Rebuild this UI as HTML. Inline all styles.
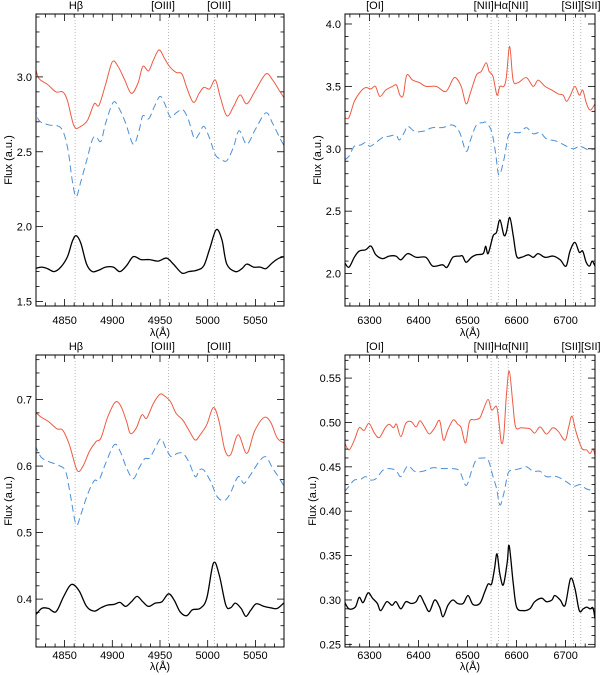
<!DOCTYPE html>
<html><head><meta charset="utf-8">
<style>
html,body{margin:0;padding:0;background:#fff;}
svg{display:block;font-family:"Liberation Sans",sans-serif;}
</style></head>
<body>
<svg id="chart" width="600" height="675" viewBox="0 0 600 675" xmlns="http://www.w3.org/2000/svg"></svg>
<script>
// ---------- DATA ----------
const aRedWl=[4819,4823,4832,4841,4848,4853,4860,4867,4874,4881,4886,4893,4900,4906,4913,4920,4927,4932,4938,4943,4949,4955,4960,4967,4973,4978,4985,4991,4996,5002,5008,5013,5020,5027,5034,5041,5050,5061,5068,5075,5081];
const aRed=[3.07,2.99,2.95,2.90,2.90,2.84,2.67,2.67,2.71,2.82,2.81,2.95,3.10,3.07,2.98,2.89,2.96,3.07,3.04,3.11,3.18,3.12,3.07,3.03,3.02,2.93,2.83,2.89,2.93,2.92,2.98,2.87,2.74,2.80,2.88,2.82,2.91,3.02,2.98,2.91,2.85];
const aBlueWl=[4819,4823,4833,4846,4853,4858,4862,4867,4873,4879,4883,4888,4893,4901,4907,4914,4922,4928,4932,4938,4944,4950,4955,4961,4967,4974,4980,4986,4991,4996,5002,5008,5014,5020,5027,5033,5041,5050,5061,5068,5075,5081];
const aBlue=[2.80,2.71,2.68,2.66,2.53,2.31,2.20,2.30,2.44,2.58,2.60,2.57,2.69,2.83,2.79,2.69,2.55,2.64,2.74,2.72,2.80,2.87,2.82,2.73,2.76,2.78,2.71,2.59,2.62,2.67,2.59,2.48,2.45,2.44,2.53,2.64,2.55,2.65,2.76,2.69,2.60,2.53];
const aBlackWl=[4819,4826,4832,4839,4846,4853,4858,4862,4867,4873,4879,4886,4893,4901,4908,4915,4922,4930,4939,4948,4957,4964,4973,4980,4989,4996,5002,5009,5015,5020,5029,5036,5041,5048,5055,5061,5068,5075,5081];
const aBlack=[1.72,1.73,1.72,1.70,1.73,1.80,1.90,1.94,1.89,1.75,1.70,1.71,1.73,1.73,1.70,1.74,1.80,1.78,1.78,1.77,1.79,1.75,1.69,1.70,1.71,1.74,1.85,1.98,1.91,1.75,1.70,1.72,1.75,1.73,1.73,1.72,1.76,1.79,1.80];
const bRedWl=[6249,6258,6269,6282,6292,6303,6312,6321,6333,6347,6355,6362,6369,6376,6388,6402,6415,6436,6456,6473,6487,6497,6506,6518,6528,6538,6544,6552,6560,6566,6574,6579,6586,6593,6603,6620,6634,6644,6658,6672,6685,6695,6702,6710,6719,6728,6735,6742,6750,6760];
const bRed=[3.25,3.25,3.38,3.46,3.49,3.48,3.50,3.42,3.47,3.50,3.51,3.43,3.43,3.59,3.55,3.53,3.50,3.50,3.46,3.57,3.50,3.36,3.45,3.59,3.62,3.69,3.62,3.58,3.43,3.50,3.50,3.57,3.82,3.55,3.53,3.57,3.50,3.55,3.50,3.47,3.44,3.43,3.38,3.43,3.50,3.43,3.47,3.37,3.31,3.36];
const bBlueWl=[6249,6258,6269,6282,6292,6301,6313,6327,6340,6354,6361,6371,6378,6392,6409,6429,6449,6470,6484,6497,6506,6518,6532,6538,6549,6557,6564,6574,6583,6593,6607,6620,6634,6648,6661,6682,6702,6716,6730,6747,6760];
const bBlue=[2.91,2.94,3.02,3.03,3.05,3.02,3.05,3.09,3.10,3.11,3.07,3.13,3.18,3.14,3.14,3.17,3.17,3.19,3.13,2.98,3.07,3.19,3.21,3.21,3.14,2.97,2.79,2.91,3.10,3.13,3.13,3.17,3.12,3.13,3.08,3.06,3.02,3.00,3.02,2.99,3.00];
const bBlackWl=[6249,6258,6269,6279,6292,6303,6313,6327,6340,6354,6364,6378,6395,6415,6429,6449,6458,6470,6484,6490,6497,6508,6518,6532,6537,6542,6552,6559,6566,6574,6579,6586,6593,6600,6610,6624,6634,6644,6658,6675,6689,6701,6709,6719,6728,6735,6742,6749,6754,6760];
const bBlack=[2.09,2.05,2.13,2.18,2.19,2.22,2.15,2.12,2.14,2.14,2.11,2.16,2.13,2.13,2.06,2.07,2.05,2.13,2.14,2.14,2.09,2.13,2.15,2.16,2.22,2.16,2.30,2.33,2.43,2.31,2.33,2.45,2.31,2.14,2.13,2.15,2.13,2.16,2.13,2.14,2.11,2.06,2.18,2.25,2.17,2.18,2.09,2.06,2.10,2.06];
const cRedWl=[4819,4825,4833,4842,4848,4855,4863,4869,4876,4883,4888,4895,4903,4909,4915,4919,4925,4931,4936,4943,4950,4955,4961,4967,4974,4981,4987,4992,4999,5006,5012,5018,5024,5032,5041,5049,5059,5066,5073,5081];
const cRed=[0.682,0.674,0.667,0.656,0.654,0.632,0.594,0.599,0.622,0.637,0.642,0.673,0.696,0.690,0.667,0.649,0.657,0.677,0.672,0.694,0.708,0.705,0.697,0.679,0.669,0.652,0.639,0.647,0.662,0.688,0.667,0.624,0.617,0.647,0.619,0.652,0.673,0.666,0.642,0.634];
const cBlueWl=[4819,4825,4833,4844,4851,4856,4862,4867,4874,4881,4886,4893,4902,4908,4915,4922,4928,4934,4939,4945,4951,4957,4962,4968,4974,4980,4987,4991,4996,5003,5010,5017,5023,5032,5038,5045,5054,5061,5068,5075,5081];
const cBlue=[0.632,0.614,0.607,0.601,0.592,0.557,0.512,0.527,0.557,0.578,0.579,0.604,0.632,0.623,0.597,0.581,0.597,0.611,0.612,0.627,0.641,0.624,0.614,0.619,0.619,0.607,0.584,0.594,0.594,0.577,0.554,0.548,0.557,0.584,0.574,0.587,0.607,0.614,0.597,0.582,0.567];
const cBlackWl=[4819,4826,4833,4841,4849,4857,4865,4873,4881,4888,4895,4902,4908,4914,4920,4926,4932,4938,4945,4952,4959,4965,4971,4978,4984,4992,4999,5006,5012,5019,5024,5029,5035,5040,5045,5051,5059,5066,5073,5081];
const cBlack=[0.375,0.386,0.386,0.381,0.404,0.422,0.413,0.389,0.382,0.387,0.391,0.392,0.395,0.389,0.396,0.404,0.396,0.389,0.394,0.396,0.408,0.398,0.381,0.375,0.384,0.386,0.401,0.454,0.437,0.391,0.387,0.394,0.386,0.374,0.383,0.393,0.389,0.387,0.386,0.396];
const dRedWl=[6249,6258,6269,6279,6289,6299,6310,6320,6332,6340,6349,6355,6364,6374,6385,6395,6403,6412,6422,6433,6443,6451,6460,6471,6480,6487,6496,6504,6515,6525,6532,6542,6549,6559,6564,6569,6574,6579,6585,6592,6598,6610,6627,6637,6648,6661,6674,6685,6699,6706,6713,6721,6733,6743,6750,6756,6760];
const dRed=[0.478,0.469,0.480,0.494,0.491,0.499,0.488,0.483,0.494,0.498,0.494,0.498,0.484,0.499,0.501,0.495,0.502,0.495,0.487,0.494,0.502,0.480,0.492,0.503,0.498,0.494,0.477,0.501,0.503,0.505,0.514,0.526,0.514,0.518,0.501,0.477,0.486,0.529,0.558,0.524,0.495,0.494,0.493,0.488,0.495,0.487,0.494,0.490,0.480,0.494,0.507,0.490,0.471,0.469,0.465,0.470,0.463];
const dBlueWl=[6249,6258,6269,6282,6292,6303,6314,6327,6340,6354,6364,6378,6392,6409,6429,6449,6470,6484,6497,6508,6518,6532,6542,6551,6559,6566,6574,6583,6593,6607,6620,6634,6648,6661,6682,6702,6716,6730,6743,6760];
const dBlue=[0.422,0.428,0.435,0.436,0.439,0.435,0.437,0.446,0.448,0.446,0.439,0.451,0.445,0.445,0.449,0.448,0.448,0.445,0.429,0.445,0.458,0.460,0.458,0.441,0.426,0.407,0.420,0.443,0.446,0.448,0.450,0.445,0.445,0.439,0.439,0.433,0.428,0.430,0.425,0.423];
const dBlackWl=[6249,6258,6271,6279,6287,6297,6306,6316,6323,6335,6346,6354,6364,6374,6385,6395,6403,6412,6422,6433,6443,6450,6460,6470,6480,6491,6501,6511,6525,6535,6542,6549,6555,6560,6566,6573,6581,6585,6593,6600,6614,6627,6637,6651,6661,6672,6678,6689,6699,6710,6719,6728,6736,6743,6750,6756,6760];
const dBlack=[0.298,0.290,0.292,0.303,0.297,0.308,0.302,0.296,0.288,0.298,0.294,0.298,0.290,0.298,0.296,0.298,0.305,0.296,0.287,0.300,0.292,0.281,0.294,0.300,0.296,0.296,0.305,0.295,0.296,0.309,0.318,0.318,0.335,0.352,0.329,0.317,0.343,0.361,0.320,0.292,0.288,0.290,0.298,0.302,0.298,0.300,0.305,0.300,0.294,0.324,0.313,0.288,0.290,0.292,0.290,0.291,0.279];

const blueLines=[4861,4959,5007];
const redLines=[6300,6548,6563,6583,6716,6731];

// ---------- DRAW ----------
const svg=document.getElementById('chart');
const NS='http://www.w3.org/2000/svg';
function mk(tag,attrs,parent){const e=document.createElementNS(NS,tag);for(const k in attrs)e.setAttribute(k,attrs[k]);(parent||svg).appendChild(e);return e;}
function smoothPath(P){
  let d='M'+P[0][0].toFixed(1)+','+P[0][1].toFixed(1);
  for(let i=0;i<P.length-1;i++){
    const p0=P[Math.max(0,i-1)],p1=P[i],p2=P[i+1],p3=P[Math.min(P.length-1,i+2)];
    const c1=[p1[0]+(p2[0]-p0[0])/6,p1[1]+(p2[1]-p0[1])/6];
    const c2=[p2[0]-(p3[0]-p1[0])/6,p2[1]-(p3[1]-p1[1])/6];
    d+=' C'+c1[0].toFixed(1)+','+c1[1].toFixed(1)+' '+c2[0].toFixed(1)+','+c2[1].toFixed(1)+' '+p2[0].toFixed(1)+','+p2[1].toFixed(1);
  }
  return d;
}

const panels=[
 {id:'top-left',x0:36,x1:284,y0:14,y1:306,xmin:4820,xmax:5080,ymin:1.47,ymax:3.42,xmaj:50,xmin_:10,ymaj:0.5,ymin_:0.1,yfmt:1,tickOff:18,titleOff:30,
  series:[[aRedWl,aRed,'red'],[aBlueWl,aBlue,'blue'],[aBlackWl,aBlack,'black']],lines:blueLines,
  labels:[['Hβ',76],['[OIII]',163],['[OIII]',219]]},
 {id:'top-right',x0:345,x1:595,y0:14,y1:306,xmin:6250,xmax:6760,ymin:1.74,ymax:4.08,xmaj:100,xmin_:20,ymaj:0.5,ymin_:0.1,yfmt:1,tickOff:18,titleOff:30,
  series:[[bRedWl,bRed,'red'],[bBlueWl,bBlue,'blue'],[bBlackWl,bBlack,'black']],lines:redLines,
  labels:[['[OI]',375],['[NII]Hα[NII]',501],['[SII][SII]',581]]},
 {id:'bottom-left',x0:36,x1:284,y0:355,y1:647,xmin:4820,xmax:5080,ymin:0.328,ymax:0.767,xmaj:50,xmin_:10,ymaj:0.1,ymin_:0.02,yfmt:1,tickOff:12,titleOff:23,
  series:[[cRedWl,cRed,'red'],[cBlueWl,cBlue,'blue'],[cBlackWl,cBlack,'black']],lines:blueLines,
  labels:[['Hβ',76],['[OIII]',163],['[OIII]',219]]},
 {id:'bottom-right',x0:345,x1:595,y0:355,y1:647,xmin:6250,xmax:6760,ymin:0.247,ymax:0.576,xmaj:100,xmin_:20,ymaj:0.05,ymin_:0.01,yfmt:2,tickOff:12,titleOff:23,
  series:[[dRedWl,dRed,'red'],[dBlueWl,dBlue,'blue'],[dBlackWl,dBlack,'black']],lines:redLines,
  labels:[['[OI]',375],['[NII]Hα[NII]',501],['[SII][SII]',581]]}
];
const colors={red:'#ee5a44',blue:'#4d8fd6',black:'#000'};

panels.forEach((p,pi)=>{
  const g=mk('g',{});
  
  
  const sx=v=>p.x0+(v-p.xmin)/(p.xmax-p.xmin)*(p.x1-p.x0);
  const sy=v=>p.y1-(v-p.ymin)/(p.ymax-p.ymin)*(p.y1-p.y0);
  const cp=mk('clipPath',{id:'clip'+pi},g);
  mk('rect',{x:p.x0,y:p.y0,width:p.x1-p.x0,height:p.y1-p.y0},cp);
  p.lines.forEach(l=>{
    const ln=mk('line',{x1:sx(l),x2:sx(l),y1:p.y0,y2:p.y1,stroke:'#aaa','stroke-width':0.8,'stroke-dasharray':'1,2'},g);
    
    
  });
  p.labels.forEach(L=>{
    const t=mk('text',{x:L[1],y:p.y0-5,'font-size':11,'text-anchor':'middle',fill:'#000'},g);
    t.textContent=L[0];
    
    
  });
  p.series.forEach(s=>{
    const P=s[0].map((w,i)=>[sx(w),sy(s[1][i])]);
    const attrs={d:smoothPath(P),fill:'none',stroke:colors[s[2]],'stroke-width':s[2]==='black'?1.3:1,'clip-path':'url(#clip'+pi+')','stroke-linejoin':'round'};
    if(s[2]==='blue')attrs['stroke-dasharray']='7,4';
    const pl=mk('path',attrs,g);
    
    
  });
  const fr=mk('rect',{x:p.x0,y:p.y0,width:p.x1-p.x0,height:p.y1-p.y0,fill:'none',stroke:'#000','stroke-width':1},g);
  
  
  const eps=1e-6;
  for(let v=Math.ceil(p.xmin/p.xmin_)*p.xmin_; v<=p.xmax+eps; v+=p.xmin_){
    const major=Math.abs(v/p.xmaj-Math.round(v/p.xmaj))<1e-6;
    const L=major?7:3.5, x=sx(v);
    mk('line',{x1:x,x2:x,y1:p.y1,y2:p.y1-L,stroke:'#000','stroke-width':0.8},g);
    mk('line',{x1:x,x2:x,y1:p.y0,y2:p.y0+L,stroke:'#000','stroke-width':0.8},g);
    if(major){
      const t=mk('text',{x:x,y:p.y1+p.tickOff,'font-size':11,'text-anchor':'middle'},g);
      t.textContent=Math.round(v);
      
      
    }
  }
  for(let k=Math.ceil(p.ymin/p.ymin_-eps); k*p.ymin_<=p.ymax+eps; k++){
    const v=k*p.ymin_;
    const major=Math.abs(v/p.ymaj-Math.round(v/p.ymaj))<1e-6;
    const L=major?7:3.5, y=sy(v);
    mk('line',{x1:p.x0,x2:p.x0+L,y1:y,y2:y,stroke:'#000','stroke-width':0.8},g);
    mk('line',{x1:p.x1,x2:p.x1-L,y1:y,y2:y,stroke:'#000','stroke-width':0.8},g);
    if(major){
      const t=mk('text',{x:p.x0-4,y:y+4,'font-size':11,'text-anchor':'end'},g);
      t.textContent=v.toFixed(p.yfmt);
      
      
    }
  }
  const xt=mk('text',{x:(p.x0+p.x1)/2,y:p.y1+p.titleOff,'font-size':11,'text-anchor':'middle'},g);
  xt.textContent='λ(Å)';
  
  
  const cy=(p.y0+p.y1)/2, cx=p.x0-(p.yfmt===2?29:24);
  const yt=mk('text',{x:cx,y:cy,'font-size':11,'text-anchor':'middle',transform:'rotate(-90 '+cx+' '+cy+')'},g);
  yt.textContent='Flux (a.u.)';
  
  
});
</script>
</body></html>
